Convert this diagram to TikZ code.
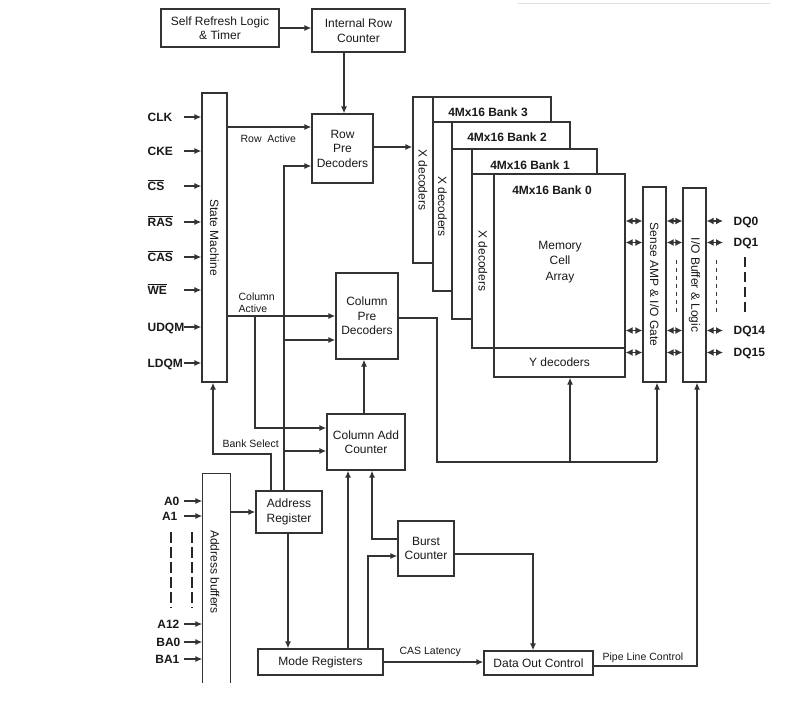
\documentclass[tikz,border=0pt]{standalone}
\usepackage{fontspec}
\setmainfont{Liberation Sans}
\usetikzlibrary{arrows.meta,calc}
\newcommand\ovl[1]{$\overline{\hbox{#1}}$}
\begin{document}
\begin{tikzpicture}[x=1pt,y=-1pt,
  line width=1.3pt,
  every node/.style={inner sep=0pt, text=black!90},
  box/.style={draw=black!80, fill=white, align=center, font=\fontsize{12}{14.5}\selectfont},
  bank/.style={draw=black!80, fill=white},
  arr/.style={draw=black!80,-{Latex[length=7pt,width=6pt]}},
  darr/.style={draw=black!80,{Latex[length=7pt,width=7pt]}-{Latex[length=7pt,width=7pt]}},
  wire/.style={draw=black!80},
  inlbl/.style={font=\bfseries\fontsize{12}{14}\selectfont, text height=8.6pt, text depth=0pt},
  small/.style={font=\fontsize{10.5}{12}\selectfont, align=left},
  rot/.style={rotate=-90, font=\fontsize{12}{14}\selectfont},
  ttl/.style={font=\bfseries\fontsize{12}{14}\selectfont},
  thindash/.style={draw=black!80, line width=1pt, dash pattern=on 4pt off 4pt},
  thickdash/.style={draw=black!85, line width=2.8pt, dash pattern=on 11pt off 4pt}
]
\useasboundingbox (0,0) rectangle (791,712);
\fill[white] (0,0) rectangle (791,712);
\draw[gray!25, line width=0.8pt] (518,3) -- (770,3);

% --- top boxes
\node[box, minimum width=118pt, minimum height=38pt] (selfref) at (220,28) {Self Refresh Logic\\\& Timer};
\node[box, minimum width=93pt, minimum height=43pt] (introw) at (358.5,30.5) {Internal Row\\Counter};
\node[box, minimum width=61pt, minimum height=69pt] (rowpre) at (342.5,148.5) {Row\\Pre\\Decoders};
\node[box, minimum width=25pt, minimum height=289pt] (sm) at (214.5,237.5) {};
\node[rot] (smt) at (sm) {State Machine};
\node[box, minimum width=62pt, minimum height=86pt] (colpre) at (367,316) {Column\\Pre\\Decoders};
\node[box, minimum width=78pt, minimum height=56pt] (coladd) at (366,442) {Column Add\\Counter};
\node[box, minimum width=66pt, minimum height=42pt] (addrreg) at (289,512) {Address\\Register};
\node[box, minimum width=125pt, minimum height=26pt] (mode) at (320.5,662) {Mode Registers};
\node[box, minimum width=56pt, minimum height=55pt] (burst) at (426,548.5) {Burst\\Counter};
\node[box, minimum width=109pt, minimum height=24pt] (dataout) at (538.5,663) {Data Out Control};
\node[box, minimum width=23pt, minimum height=195pt] (sense) at (654.5,284.5) {};
\node[rot] (senset) at (sense) {Sense AMP \& I/O Gate};
\node[box, minimum width=23pt, minimum height=194pt] (io) at (694.5,285) {};
\node[rot] (iot) at (io) {I/O Buffer \& Logic};
\node[minimum width=27pt, minimum height=208pt] (ab) at (216.5,578) {};
\draw[wire] (ab.south west) -- (ab.north west) -- (ab.north east) -- (ab.south east);
\node[rot] (abt) at (215,572) {Address buffers};

% --- banks
\node[bank, minimum width=20pt, minimum height=166pt] (b3x) at (423,180) {};
\node[bank, minimum width=118pt, minimum height=166pt] (b3m) at (492,180) {};
\node[ttl] (t3) at (488,112) {4Mx16 Bank 3};
\node[rot] (x3) at (b3x) {X decoders};
\node[bank, minimum width=19pt, minimum height=169pt] (b2x) at (442.5,206.5) {};
\node[bank, minimum width=118pt, minimum height=169pt] (b2m) at (511,206.5) {};
\node[ttl] (t2) at (507,137) {4Mx16 Bank 2};
\node[rot] (x2) at (b2x) {X decoders};
\node[bank, minimum width=20pt, minimum height=170pt] (b1x) at (462,234) {};
\node[bank, minimum width=125pt, minimum height=170pt] (b1m) at (534.5,234) {};
\node[ttl] (t1) at (530,165) {4Mx16 Bank 1};
\node[bank, minimum width=22pt, minimum height=174pt] (b0x) at (483,261) {};
\node[bank, minimum width=131pt, minimum height=174pt] (b0m) at (559.5,261) {};
\node[bank, minimum width=131pt, minimum height=29pt, font=\fontsize{12}{14}\selectfont] (ydec) at (559.5,362.5) {Y decoders};
\node[ttl] (t0) at (552,190) {4Mx16 Bank 0};
\node[rot] (x0) at (b0x) {X decoders};
\node[align=center, font=\fontsize{12}{15.5}\selectfont] (mca) at (560,262) {Memory\\Cell\\Array};

% --- input labels
\node[inlbl, anchor=west] (clk) at (147,117) {CLK};
\node[inlbl, anchor=west] (cke) at (147,151) {CKE};
\node[inlbl, anchor=west] (cs) at (147,186) {\ovl{CS}};
\node[inlbl, anchor=west] (ras) at (147,222) {\ovl{RAS}};
\node[inlbl, anchor=west] (cas) at (147,257) {\ovl{CAS}};
\node[inlbl, anchor=west] (we) at (147,290) {\ovl{WE}};
\node[inlbl, anchor=west] (udqm) at (147,327) {UDQM};
\node[inlbl, anchor=west] (ldqm) at (147,363) {LDQM};
\foreach \n in {clk,cke,cs,ras,cas,we,udqm,ldqm}
  \draw[arr] ($(sm.west |- \n.east)+(-17,0)$) -- (sm.west |- \n.east);

\node[inlbl, anchor=east] (a0) at (180,501) {A0};
\node[inlbl, anchor=east] (a1) at (178,516) {A1};
\node[inlbl, anchor=east] (a12) at (180,624) {A12};
\node[inlbl, anchor=east] (ba0) at (181,642) {BA0};
\node[inlbl, anchor=east] (ba1) at (180,659) {BA1};
\foreach \n in {a0,a1,a12,ba0,ba1}
  \draw[arr] ($(ab.west |- \n.east)+(-18,0)$) -- (ab.west |- \n.east);
\draw[thickdash] (171,532) -- (171,608);
\draw[thickdash] (192,532) -- (192,608);

% --- DQ
\node[inlbl, anchor=west] (dq0) at (733,221) {DQ0};
\node[inlbl, anchor=west] (dq1) at (733,242.5) {DQ1};
\node[inlbl, anchor=west] (dq14) at (733,330.5) {DQ14};
\node[inlbl, anchor=west] (dq15) at (733,352.5) {DQ15};
\foreach \n in {dq0,dq1,dq14,dq15}{
  \draw[darr] (b0m.east |- \n.west) -- (sense.west |- \n.west);
  \draw[darr] (sense.east |- \n.west) -- (io.west |- \n.west);
  \draw[darr] (io.east |- \n.west) -- ($(\n.west)+(-10,0)$);
}
\draw[thindash] (676,260) -- (676,313);
\draw[thindash] (716,260) -- (716,313);
\draw[thickdash, dash pattern=on 10pt off 5pt] (745,257) -- (745,312);

% --- small labels
\node[small, anchor=west] (rowact) at (240,139) {Row\ \ Active};
\node[small, anchor=west] (colact) at (238,303) {Column\\Active};
\node[small, anchor=west] (banksel) at (222,444) {Bank Select};
\node[small, anchor=west] (caslat) at (399,652) {CAS Latency};
\node[small, anchor=west] (pipe) at (602,658) {Pipe Line Control};

% --- connectors
\draw[arr] (selfref.east) -- (selfref.east -| introw.west);
\coordinate (ir) at (344,52);
\draw[arr] (ir |- introw.south) -- (ir |- rowpre.north);
\coordinate (ra) at (227,127);
\draw[arr] (sm.east |- ra) -- (rowpre.west |- ra);
\draw[arr] ([yshift=1.5pt]rowpre.east) -- ([yshift=1.5pt]rowpre.east -| b3x.west);
\draw[arr] (sm.east |- colpre.west) -- (colpre.west);
\coordinate (ca1) at (255,316);
\coordinate (ca2) at (255,428);
\draw[arr] (ca1) -- (ca2) -- (ca2 -| coladd.west);
\coordinate (v1) at (284,166);
\draw[arr] (v1 |- addrreg.north) -- (v1) -- (v1 -| rowpre.west);
\coordinate (v2) at (284,340);
\draw[arr] (v2) -- (v2 -| colpre.west);
\coordinate (v3) at (284,451);
\draw[arr] (v3) -- (v3 -| coladd.west);
\coordinate (bs1) at (271,454);
\coordinate (bs2) at (213,454);
\draw[arr] (bs1 |- addrreg.north) -- (bs1) -- (bs2) -- (bs2 |- sm.south);
\coordinate (cc) at (364,414);
\draw[arr] (cc |- coladd.north) -- (cc |- colpre.south);
\coordinate (cp1) at (437,318);
\coordinate (cp2) at (437,462);
\coordinate (ydj) at (570,462);
\coordinate (snj) at (657,462);
\draw[wire] ([yshift=-2pt]colpre.east) -- (cp1) -- (cp2) -- (snj);
\draw[arr] (ydj) -- (ydj |- ydec.south);
\draw[arr] (snj) -- (snj |- sense.south);
\draw[arr] (addrreg.west -| ab.east) -- (addrreg.west);
\coordinate (a1c) at (288,533);
\draw[arr] (a1c |- addrreg.south) -- (a1c |- mode.north);
\coordinate (m1) at (348,649);
\draw[arr] (m1 |- mode.north) -- (m1 |- coladd.south);
\coordinate (m2) at (368,556);
\draw[arr] (m2 |- mode.north) -- (m2) -- (m2 -| burst.west);
\coordinate (bc1) at (372,539);
\draw[arr] (bc1 -| burst.west) -- (bc1) -- (bc1 |- coladd.south);
\coordinate (bc2) at (533,554);
\draw[arr] (bc2 -| burst.east) -- (bc2) -- (bc2 |- dataout.north);
\draw[arr] (mode.east) -- (mode.east -| dataout.west);
\coordinate (plc) at (697,666);
\draw[arr] (plc -| dataout.east) -- (plc) -- (plc |- io.south);
\end{tikzpicture}
\end{document}
